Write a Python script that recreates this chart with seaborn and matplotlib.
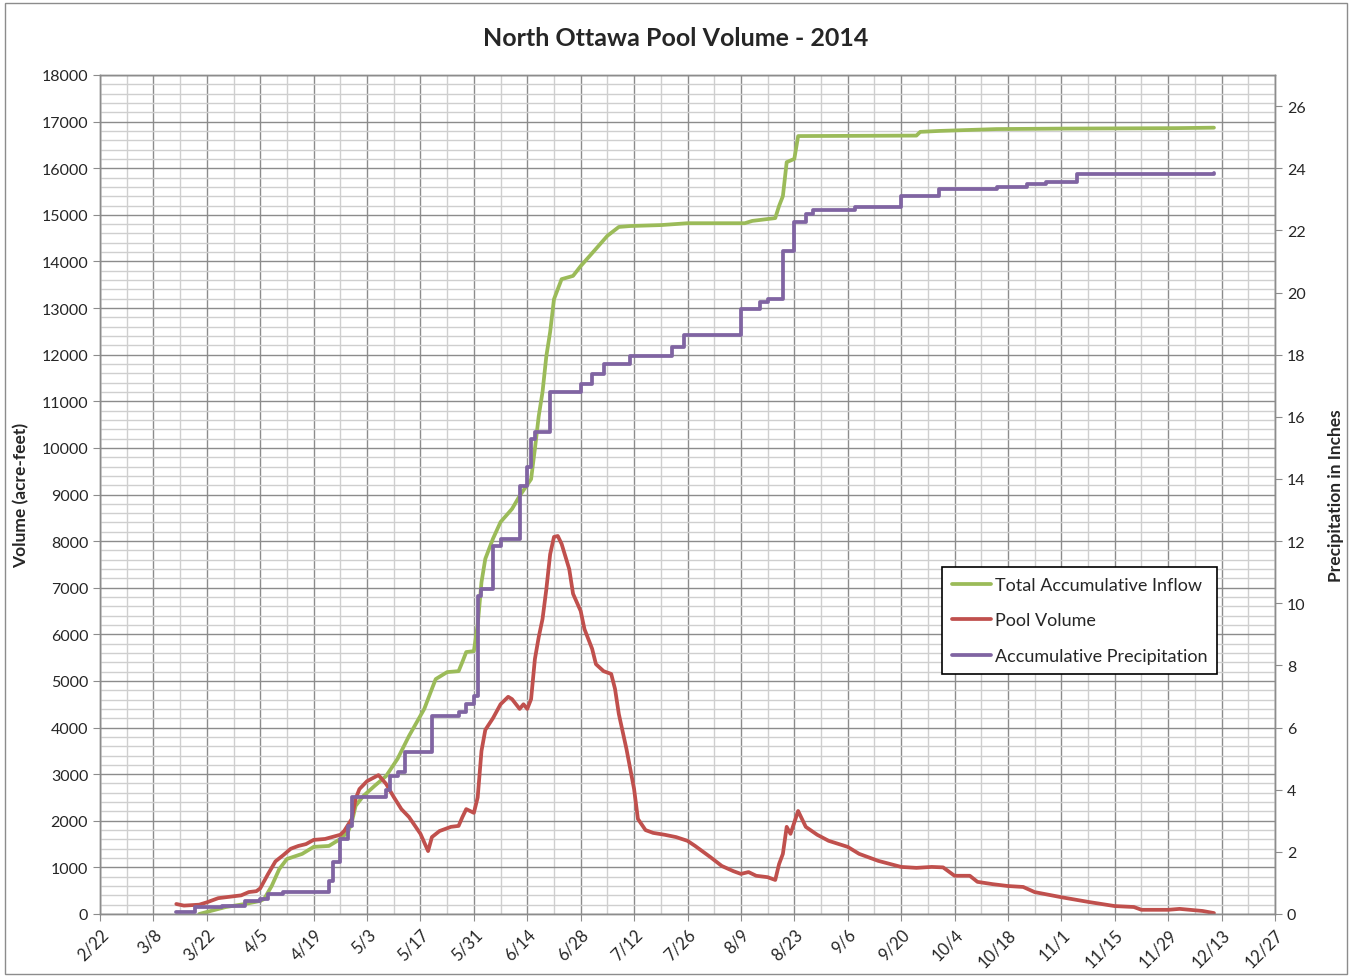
import matplotlib
matplotlib.use("Agg")
import matplotlib.pyplot as plt
from matplotlib.patches import Rectangle
from matplotlib.lines import Line2D
import seaborn as sns
import pandas as pd

# Pool volume (acre-feet), left axis
pool_dates = ['03-14', '03-16', '03-20', '03-22', '03-25', '03-31', '04-02', '04-04', '04-05', '04-07',
              '04-09', '04-11', '04-13', '04-15', '04-17', '04-19', '04-22', '04-26', '04-27', '04-29',
              '04-30', '05-01', '05-03', '05-06', '05-08', '05-10', '05-12', '05-14', '05-17', '05-19',
              '05-20', '05-22', '05-25', '05-27', '05-28', '05-29', '05-30', '05-31', '06-01', '06-02',
              '06-03', '06-05', '06-07', '06-09', '06-10', '06-12', '06-13', '06-14', '06-15', '06-16',
              '06-17', '06-18', '06-19', '06-20', '06-21', '06-22', '06-23', '06-25', '06-26', '06-28',
              '06-29', '07-01', '07-02', '07-04', '07-06', '07-07', '07-08', '07-10', '07-12', '07-13',
              '07-15', '07-17', '07-20', '07-23', '07-26', '07-28', '08-01', '08-04', '08-07', '08-09',
              '08-11', '08-13', '08-16', '08-18', '08-19', '08-20', '08-21', '08-22', '08-24', '08-26',
              '08-29', '09-01', '09-06', '09-09', '09-14', '09-20', '09-24', '09-28', '10-01', '10-04',
              '10-08', '10-10', '10-14', '10-18', '10-22', '10-25', '11-01', '11-08', '11-15', '11-20',
              '11-22', '11-29', '12-02', '12-08', '12-11']
pool_vals = [215, 180, 200, 250, 340, 400, 470, 490, 550, 850,
             1130, 1260, 1400, 1460, 1500, 1590, 1610, 1700, 1780, 2040,
             2470, 2680, 2850, 2980, 2790, 2510, 2250, 2080, 1720, 1350,
             1650, 1780, 1870, 1890, 2080, 2250, 2210, 2170, 2500, 3500,
             3950, 4200, 4500, 4660, 4610, 4400, 4500, 4400, 4610, 5470,
             5940, 6330, 6970, 7720, 8090, 8110, 7940, 7400, 6870, 6500,
             6110, 5690, 5360, 5210, 5150, 4830, 4290, 3540, 2680, 2040,
             1800, 1740, 1700, 1650, 1570, 1460, 1220, 1030, 920, 860,
             900, 820, 790, 730, 1070, 1290, 1870, 1720, 2210, 1870,
             1700, 1570, 1440, 1290, 1140, 1010, 990, 1010, 1000, 820,
             820, 690, 640, 600, 580, 470, 360, 260, 170, 150,
             90, 90, 110, 65, 20]

# Total accumulative inflow (acre-feet), left axis
inflow_dates = ['03-20', '03-23', '03-27', '04-01', '04-05', '04-06', '04-08', '04-10', '04-12', '04-16',
                '04-19', '04-23', '04-26', '04-28', '04-29', '04-30', '05-02', '05-05', '05-08', '05-11',
                '05-14', '05-18', '05-20', '05-21', '05-24', '05-27', '05-28', '05-29', '05-31', '06-01',
                '06-02', '06-03', '06-05', '06-07', '06-10', '06-12', '06-15', '06-16', '06-17', '06-18',
                '06-19', '06-20', '06-21', '06-23', '06-26', '06-28', '07-02', '07-05', '07-08', '07-11',
                '07-19', '07-26', '08-10', '08-12', '08-18', '08-19', '08-20', '08-21', '08-23', '08-24',
                '09-24', '09-25', '09-30', '10-15', '11-01', '12-01', '12-11']
inflow_vals = [0, 65, 150, 215, 280, 320, 600, 965, 1180, 1290,
               1440, 1460, 1610, 1760, 1970, 2320, 2530, 2750, 2960, 3330,
               3820, 4400, 4830, 5040, 5190, 5210, 5410, 5620, 5640, 6200,
               7120, 7620, 8050, 8410, 8690, 8970, 9330, 9980, 10680, 11200,
               11970, 12490, 13190, 13620, 13690, 13900, 14270, 14550, 14740, 14760,
               14780, 14820, 14820, 14870, 14930, 15190, 15400, 16130, 16200, 16690,
               16700, 16780, 16800, 16840, 16850, 16860, 16870]

# Accumulative precipitation (inches), right axis
precip_dates = ['03-14', '03-19', '03-26', '04-01', '04-05', '04-07', '04-11', '04-23', '04-24', '04-26',
                '04-28', '04-29', '05-08', '05-09', '05-11', '05-13', '05-20', '05-27', '05-29', '05-31',
                '06-01', '06-02', '06-05', '06-07', '06-12', '06-14', '06-15', '06-16', '06-20', '06-28',
                '07-01', '07-04', '07-11', '07-22', '07-25', '08-09', '08-14', '08-16', '08-20', '08-23',
                '08-26', '08-28', '09-08', '09-20', '09-30', '10-15', '10-23', '10-28', '11-05', '12-11']
precip_vals = [0.06, 0.22, 0.26, 0.42, 0.48, 0.64, 0.71, 1.06, 1.67, 2.41,
               2.83, 3.76, 4.0, 4.44, 4.57, 5.21, 6.37, 6.5, 6.76, 7.0,
               10.23, 10.46, 11.84, 12.07, 13.77, 14.38, 15.28, 15.5, 16.8, 17.05,
               17.37, 17.7, 17.95, 18.24, 18.63, 19.47, 19.69, 19.79, 21.33, 22.26,
               22.52, 22.65, 22.75, 23.1, 23.33, 23.39, 23.5, 23.55, 23.8, 23.84]

series_names = ['Total Accumulative Inflow', 'Pool Volume', 'Accumulative Precipitation']
series_colors = ['#9BBB59', '#C0504D', '#8064A2']

sns.set_style("white")
plt.rcParams['font.family'] = ['Lato', 'DejaVu Sans']


def to_dates(md):
    return pd.to_datetime(['2014-' + s for s in md])


fig = plt.figure(figsize=(13.52, 9.79), dpi=100)
ax = fig.add_axes([100 / 1352, 64 / 979, 1175 / 1352, 839 / 979])
ax2 = ax.twinx()

lw = 2.7
sns.lineplot(x=to_dates(inflow_dates), y=inflow_vals, ax=ax, color=series_colors[0], lw=lw)
sns.lineplot(x=to_dates(pool_dates), y=pool_vals, ax=ax, color=series_colors[1], lw=lw)
sns.lineplot(x=to_dates(precip_dates), y=precip_vals, ax=ax2, color=series_colors[2], lw=lw,
             drawstyle='steps-post')

start, end = pd.Timestamp('2014-02-22'), pd.Timestamp('2014-12-27')
major = pd.date_range(start, end, freq='14D')
minor = pd.date_range(start, end, freq='7D')
ax.set_xlim(start, end)
ax.set_xticks(major)
ax.set_xticks(minor, minor=True)
ax.set_xticklabels([f"{d.month}/{d.day}" for d in major], rotation=45, ha='right',
                   rotation_mode='anchor', fontsize=12)

ax.set_ylim(0, 18000)
ax.set_yticks(range(0, 18001, 1000))
ax.set_yticks(range(0, 18001, 200), minor=True)
ax.tick_params(axis='y', labelsize=11.5)
ax2.set_ylim(0, 27)
ax2.set_yticks(range(0, 27, 2))
ax2.tick_params(axis='y', labelsize=11.5)

ax.grid(which='major', color='#8c8c8c', lw=1.0)
ax.grid(which='minor', color='#cfcfcf', lw=1.0)
ax.set_axisbelow(True)
ax2.grid(False)

for a in (ax, ax2):
    for sp in a.spines.values():
        sp.set_color('#8c8c8c')
        sp.set_linewidth(1.0)
ax.tick_params(which='major', direction='out', length=5, color='#8c8c8c', left=True, bottom=True)
ax.tick_params(which='minor', length=0)
ax2.tick_params(which='major', direction='out', length=5, color='#8c8c8c', right=True)

ax.set_ylabel('Volume (acre-feet)', fontsize=12.5, fontweight='bold', labelpad=9)
ax2.set_ylabel('Precipitation in Inches', fontsize=12.5, fontweight='bold', labelpad=16)
ax.set_xlabel('')
fig.suptitle('North Ottawa Pool Volume - 2014', fontsize=18, fontweight='bold', y=0.972)

handles = [Line2D([], [], color=c, lw=lw) for c in series_colors]
leg = ax2.legend(handles, series_names, loc='upper right', bbox_to_anchor=(0.951, 0.4136),
                 fontsize=13, frameon=True, fancybox=False, framealpha=1, edgecolor='black',
                 handlelength=2.2, handletextpad=0.2, labelspacing=1.08, borderpad=0.55,
                 borderaxespad=0)
leg.get_frame().set_linewidth(1.2)

fig.patches.append(Rectangle((0.004, 0.004), 0.992, 0.992, transform=fig.transFigure,
                             fill=False, edgecolor='#8c8c8c', lw=1.0))

fig.savefig('out.png', dpi=100)
